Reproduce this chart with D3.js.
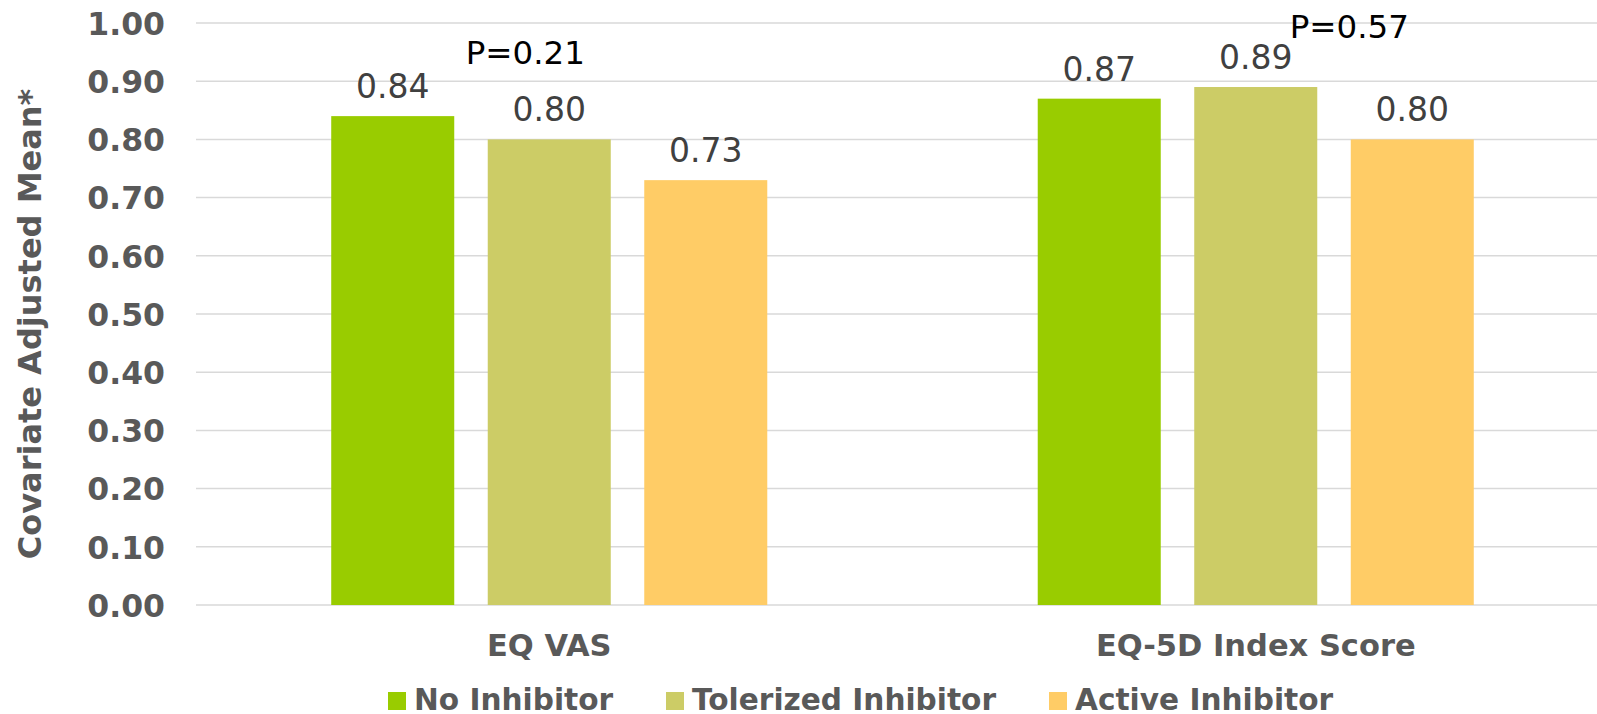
<!DOCTYPE html>
<html>
<head>
<meta charset="utf-8">
<script src="https://cdn.jsdelivr.net/npm/d3@7"></script>
<style>
  html, body { margin: 0; padding: 0; background: #fff; }
  svg { display: block; font-family: "DejaVu Sans", Verdana, sans-serif; }
</style>
</head>
<body>
<svg id="chart" width="1597" height="714"></svg>
<script>
const categories = ["EQ VAS", "EQ-5D Index Score"];
const seriesNames = ["No Inhibitor", "Tolerized Inhibitor", "Active Inhibitor"];
const noInhibitor = [0.84, 0.87];
const toleratedInhibitor = [0.80, 0.89];
const activeInhibitor = [0.73, 0.80];
const seriesColors = ["#99cc00", "#cccc66", "#ffcc66"];
const pValues = ["P=0.21", "P=0.57"];
const yTicks = [0, 0.1, 0.2, 0.3, 0.4, 0.5, 0.6, 0.7, 0.8, 0.9, 1.0];

const seriesValues = [noInhibitor, toleratedInhibitor, activeInhibitor];

const svg = d3.select("#chart");
const W = 1597, H = 714;
const plotLeft = 196, plotRight = 1609, plotTop = 23, plotBottom = 605;

const y = d3.scaleLinear().domain([0, 1]).range([plotBottom, plotTop]);
const x0 = d3.scaleBand().domain(categories).range([plotLeft, plotRight]).padding(0);
const x1 = d3.scaleBand().domain(seriesNames).range([0, x0.bandwidth()])
  .paddingInner(0.214).paddingOuter(0.864);

// gridlines
svg.append("g").selectAll("line").data(yTicks).join("line")
  .attr("x1", plotLeft).attr("x2", W)
  .attr("y1", d => y(d)).attr("y2", d => y(d))
  .attr("stroke", "#d9d9d9").attr("stroke-width", 1.5);

// y axis labels
const yAxis = d3.axisLeft(y).tickValues(yTicks).tickFormat(d3.format(".2f")).tickSize(0).tickPadding(0);
const yg = svg.append("g").attr("transform", `translate(165,0)`).call(yAxis);
yg.select(".domain").remove();
yg.selectAll("text")
  .attr("font-family", "'DejaVu Sans', Verdana, sans-serif")
  .attr("font-size", 31.5).attr("font-weight", "bold").attr("fill", "#595959")
  .attr("dy", "0.36em");

// y title
svg.append("text")
  .attr("transform", `translate(41,324) rotate(-90)`)
  .attr("text-anchor", "middle")
  .attr("font-size", 32).attr("font-weight", "bold").attr("fill", "#595959")
  .text("Covariate Adjusted Mean*");

// bars
const groups = svg.append("g").selectAll("g").data(categories).join("g")
  .attr("transform", d => `translate(${x0(d)},0)`);

groups.each(function(cat, ci) {
  const g = d3.select(this);
  seriesNames.forEach((s, si) => {
    const v = seriesValues[si][ci];
    g.append("rect")
      .attr("x", x1(s)).attr("width", x1.bandwidth())
      .attr("y", y(v)).attr("height", y(0) - y(v))
      .attr("fill", seriesColors[si]);
    g.append("text")
      .attr("x", x1(s) + x1.bandwidth() / 2)
      .attr("y", y(v) - 18)
      .attr("text-anchor", "middle")
      .attr("font-size", 33).attr("fill", "#404040")
      .text(d3.format(".2f")(v));
  });
});

// p-values
const pPos = [
  {x: x0(categories[0]) + x1(seriesNames[1]) + x1.bandwidth() / 2 - 24, y: 64},
  {x: x0(categories[1]) + x1(seriesNames[2]) + x1.bandwidth() / 2 - 63, y: 38}
];
svg.append("g").selectAll("text").data(pValues).join("text")
  .attr("x", (d, i) => pPos[i].x)
  .attr("y", (d, i) => pPos[i].y)
  .attr("text-anchor", "middle")
  .attr("font-size", 32.5).attr("fill", "#000")
  .text(d => d);

// category labels
const xAxis = d3.axisBottom(x0).tickSize(0).tickPadding(0);
const xg = svg.append("g").attr("transform", `translate(0,${plotBottom})`).call(xAxis);
xg.select(".domain").remove();
xg.selectAll("text")
  .attr("font-family", "'DejaVu Sans', Verdana, sans-serif")
  .attr("font-size", 30.5).attr("font-weight", "bold").attr("fill", "#595959")
  .attr("y", 51).attr("dy", 0);

// legend
const legendX = [388, 666, 1049];
const lg = svg.append("g").selectAll("g").data(seriesNames).join("g")
  .attr("transform", (d, i) => `translate(${legendX[i]},0)`);
lg.append("rect").attr("x", 0).attr("y", 692).attr("width", 18).attr("height", 18)
  .attr("fill", (d, i) => seriesColors[i]);
lg.append("text").attr("x", 26).attr("y", 710)
  .attr("font-size", 29.6).attr("font-weight", "bold").attr("fill", "#595959")
  .text(d => d);
</script>
</body>
</html>
